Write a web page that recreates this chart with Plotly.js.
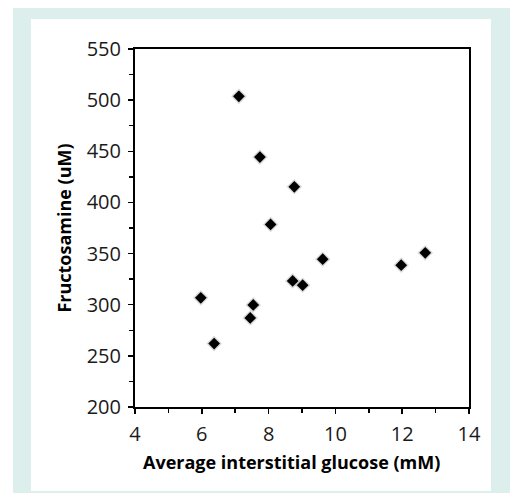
<!DOCTYPE html>
<html>
<head>
<meta charset="utf-8">
<script src="https://cdn.plot.ly/plotly-3.0.1.min.js"></script>
<style>
html,body{margin:0;padding:0;background:#ffffff;width:510px;height:493px;overflow:hidden;}
#bg{position:absolute;left:13px;top:8px;width:497px;height:485px;background:#dcefed;}
#chart{position:absolute;left:31px;top:19px;width:460px;height:472px;background:#ffffff;}
</style>
</head>
<body>
<div id="bg"></div>
<div id="chart"></div>
<script>
const glucose = [5.97, 6.37, 7.11, 7.45, 7.54, 7.74, 8.06, 8.72, 8.77, 9.02, 9.62, 11.97, 12.69];
const fructosamine = [306.7, 262, 503.7, 287.1, 299.8, 444.3, 378.5, 323.3, 415.3, 319.1, 344.5, 338.7, 350.7];
const xTitle = 'Average interstitial glucose (mM)';
const yTitle = 'Fructosamine (uM)';

const font = 'Open Sans, Lato, sans-serif';

Plotly.newPlot('chart', [
  {
    x: glucose, y: fructosamine, type: 'scatter', mode: 'markers',
    marker: {symbol: 'diamond', size: 12, color: 'rgba(0,0,0,0.15)', line: {width: 0}},
    hoverinfo: 'skip', showlegend: false
  },
  {
    x: glucose, y: fructosamine, type: 'scatter', mode: 'markers',
    marker: {symbol: 'diamond', size: 9, color: '#000000', line: {width: 0}},
    showlegend: false
  }
], {
  width: 460, height: 472,
  paper_bgcolor: '#ffffff', plot_bgcolor: '#ffffff',
  margin: {l: 104, r: 22, t: 30, b: 84},
  font: {family: font, color: '#000000'},
  xaxis: {
    range: [4, 14], dtick: 2, tick0: 4,
    showgrid: false, zeroline: false,
    showline: true, linecolor: '#000000', linewidth: 2, mirror: true,
    ticks: 'outside', ticklen: 5, tickwidth: 1.5, tickcolor: '#000000',
    minor: {dtick: 1, ticks: 'outside', ticklen: 4, tickwidth: 1.5, tickcolor: '#000000', showgrid: false},
    tickfont: {size: 20, family: font, color: '#1a1a1a'},
    ticklabelstandoff: 3
  },
  yaxis: {
    range: [200, 550], dtick: 50, tick0: 200,
    showgrid: false, zeroline: false,
    showline: true, linecolor: '#000000', linewidth: 2, mirror: true,
    ticks: 'outside', ticklen: 5, tickwidth: 1.5, tickcolor: '#000000',
    minor: {dtick: 25, ticks: 'outside', ticklen: 4, tickwidth: 1.5, tickcolor: '#000000', showgrid: false},
    tickfont: {size: 20, family: font, color: '#1a1a1a'},
    ticklabelstandoff: 3,
    title: {text: yTitle, font: {size: 18, family: font, weight: 'bold'}, standoff: 10}
  },
  annotations: [{
    text: xTitle, xref: 'paper', yref: 'paper', x: 0.4686, y: -0.154,
    xanchor: 'center', yanchor: 'middle', showarrow: false,
    font: {size: 18, family: font, weight: 'bold', color: '#000000'}
  }]
}, {displayModeBar: false, staticPlot: true});
</script>
</body>
</html>
